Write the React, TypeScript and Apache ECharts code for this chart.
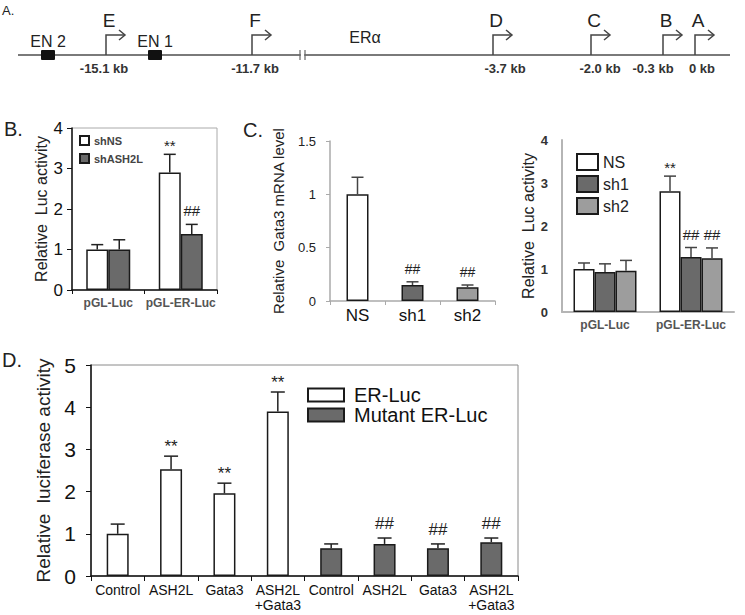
import React, { useEffect, useRef } from "react";
import * as echarts from "echarts";

const FONT = "'Liberation Sans', Arial, Helvetica, sans-serif";

// ---------- Panel A (schematic) ----------
const promoterNames = ["E", "F", "D", "C", "B", "A"];
const promoterDistances = ["-15.1 kb", "-11.7 kb", "-3.7 kb", "-2.0 kb", "-0.3 kb", "0 kb"];
const enhancerNames = ["EN 2", "EN 1"];
const geneName = "ERα";

// ---------- Panel B ----------
const bCategories = ["pGL-Luc", "pGL-ER-Luc"];
const bShNS = [1.0, 2.9];
const bShNSErr = [1.12, 3.35];
const bShNSMarks = ["", "**"];
const bShASH2L = [1.0, 1.38];
const bShASH2LErr = [1.24, 1.62];
const bShASH2LMarks = ["", "##"];

// ---------- Panel C (mRNA) ----------
const cCategories = ["NS", "sh1", "sh2"];
const cValues = [1.0, 0.15, 0.13];
const cErr = [1.16, 0.18, 0.15];
const cMarks = ["", "##", "##"];

// ---------- Panel C (luciferase) ----------
const rCategories = ["pGL-Luc", "pGL-ER-Luc"];
const rNS = [1.0, 2.81];
const rNSErr = [1.14, 3.16];
const rNSMarks = ["", "**"];
const rSh1 = [0.93, 1.28];
const rSh1Err = [1.12, 1.5];
const rSh1Marks = ["", "##"];
const rSh2 = [0.96, 1.25];
const rSh2Err = [1.2, 1.49];
const rSh2Marks = ["", "##"];

// ---------- Panel D ----------
const dCategories = ["Control", "ASH2L", "Gata3", "ASH2L\n+Gata3", "Control", "ASH2L", "Gata3", "ASH2L\n+Gata3"];
const dER = [1.0, 2.53, 1.96, 3.9, null, null, null, null];
const dERErr = [1.23, 2.84, 2.2, 4.36, null, null, null, null];
const dERMarks = ["", "**", "**", "**", "", "", "", ""];
const dMut = [null, null, null, null, 0.66, 0.76, 0.66, 0.8];
const dMutErr = [null, null, null, null, 0.76, 0.9, 0.76, 0.9];
const dMutMarks = ["", "", "", "", "", "##", "##", "##"];

// ---------- layout (pixels) ----------
const diagramY = 55;
const diagramLineX = [18, 730];
const promoterX = [106, 252, 493, 591, 663, 695];
const distanceLabelX = [104, 255, 505, 600, 653, 702];
const enhancerX = [48, 155];
const breakX = 300;
const geneLabelX = 365;

const WHITE = "#ffffff";
const DARK = "#6a6a6a";
const LIGHT = "#9d9d9d";
const EDGE = "#1a1a1a";

function errSeries(
  xi: number,
  values: (number | null)[],
  errs: (number | null)[],
  marks: string[],
  offset: number,
  cap: number,
  color: string,
  markSize: number,
  markGap: (m: string) => number
) {
  const data: number[][] = [];
  values.forEach((v, i) => {
    if (v != null && errs[i] != null) data.push([i, v as number, errs[i] as number]);
  });
  return {
    type: "custom",
    xAxisIndex: xi,
    yAxisIndex: xi,
    z: 5,
    silent: true,
    data,
    renderItem: (params: any, api: any) => {
      const cat = api.value(0);
      const b = api.coord([cat, api.value(1)]);
      const t = api.coord([cat, api.value(2)]);
      const x = b[0] + offset;
      const children: any[] = [
        { type: "line", shape: { x1: x, y1: b[1], x2: x, y2: t[1] }, style: { stroke: color, lineWidth: 1.5 } },
        { type: "line", shape: { x1: x - cap, y1: t[1], x2: x + cap, y2: t[1] }, style: { stroke: color, lineWidth: 1.5 } },
      ];
      const m = marks[cat];
      if (m) {
        children.push({
          type: "text",
          x,
          y: t[1] - markGap(m),
          style: {
            text: m,
            fontSize: markSize,
            fontFamily: FONT,
            fill: "#222",
            align: "center",
            verticalAlign: "bottom",
          },
        });
      }
      return { type: "group", children };
    },
  };
}

function buildDiagram() {
  const els: any[] = [];
  const lineStyle = { stroke: "#7a7a7a", lineWidth: 2 };
  els.push({ type: "line", shape: { x1: diagramLineX[0], y1: diagramY, x2: diagramLineX[1], y2: diagramY }, style: lineStyle });
  els.push({ type: "rect", shape: { x: breakX + 0.8, y: diagramY - 4, width: 3.4, height: 8 }, style: { fill: "#fff" } });
  els.push({ type: "line", shape: { x1: breakX, y1: diagramY - 5, x2: breakX, y2: diagramY + 5 }, style: { stroke: "#666", lineWidth: 1.2 } });
  els.push({ type: "line", shape: { x1: breakX + 5, y1: diagramY - 5, x2: breakX + 5, y2: diagramY + 5 }, style: { stroke: "#666", lineWidth: 1.2 } });
  enhancerNames.forEach((n, i) => {
    const x = enhancerX[i];
    els.push({ type: "rect", shape: { x: x - 7, y: diagramY - 5, width: 14, height: 10, r: 1 }, style: { fill: "#111" } });
    els.push({ type: "text", x, y: diagramY - 14, style: { text: n, fontSize: 16, fontFamily: FONT, fill: "#222", align: "center", verticalAlign: "middle" } });
  });
  promoterNames.forEach((n, i) => {
    const x = promoterX[i];
    const top = diagramY - 20;
    els.push({ type: "polyline", shape: { points: [[x, diagramY], [x, top], [x + 19, top]] }, style: { stroke: "#444", lineWidth: 1.5, fill: null } });
    els.push({ type: "polyline", shape: { points: [[x + 13, top - 5], [x + 19, top], [x + 13, top + 5]] }, style: { stroke: "#444", lineWidth: 1.5, fill: null } });
    els.push({ type: "text", x: x + 3, y: 20, style: { text: n, fontSize: 19, fontFamily: FONT, fill: "#222", align: "center", verticalAlign: "middle" } });
    els.push({ type: "text", x: distanceLabelX[i], y: diagramY + 13, style: { text: promoterDistances[i], fontSize: 13, fontWeight: "bold", fontFamily: FONT, fill: "#333", align: "center", verticalAlign: "middle" } });
  });
  els.push({ type: "text", x: geneLabelX, y: 37, style: { text: geneName, fontSize: 16, fontFamily: FONT, fill: "#222", align: "center", verticalAlign: "middle" } });
  els.push({ type: "text", x: 2, y: 10, style: { text: "A.", fontSize: 13, fontFamily: FONT, fill: "#222", verticalAlign: "middle" } });
  els.push({ type: "text", x: 4, y: 129, style: { text: "B.", fontSize: 20, fontFamily: FONT, fill: "#222", verticalAlign: "middle" } });
  els.push({ type: "text", x: 243, y: 130, style: { text: "C.", fontSize: 20, fontFamily: FONT, fill: "#222", verticalAlign: "middle" } });
  els.push({ type: "text", x: 2, y: 360, style: { text: "D.", fontSize: 20, fontFamily: FONT, fill: "#222", verticalAlign: "middle" } });
  return els;
}

function barItem(color: string) {
  return { color, borderColor: EDGE, borderWidth: 1.5 };
}

function buildOption() {
  const gapFor = (m: string) => (m.startsWith("*") ? 1 : 6);
  return {
    animation: false,
    backgroundColor: "#fff",
    textStyle: { fontFamily: FONT },
    graphic: { elements: buildDiagram() },
    legend: [
      {
        data: ["shNS", "shASH2L"],
        left: 74,
        top: 130,
        orient: "vertical",
        icon: "rect",
        itemWidth: 9,
        itemHeight: 9,
        itemGap: 7,
        selectedMode: false,
        textStyle: { fontSize: 11, fontWeight: "bold", color: "#444", fontFamily: FONT },
      },
      {
        data: ["NS", "sh1", "sh2"],
        left: 571,
        top: 148,
        orient: "vertical",
        icon: "rect",
        itemWidth: 21,
        itemHeight: 16,
        itemGap: 4,
        selectedMode: false,
        textStyle: { fontSize: 16, color: "#222", fontFamily: FONT },
      },
      {
        data: ["ER-Luc", "Mutant ER-Luc"],
        left: 302,
        top: 380,
        orient: "vertical",
        icon: "rect",
        itemWidth: 36,
        itemHeight: 13,
        itemGap: 0,
        selectedMode: false,
        textStyle: { fontSize: 20, color: "#111", fontFamily: FONT, padding: [0, 0, 0, 5] },
      },
    ],
    grid: [
      { left: 72, top: 128, width: 145, height: 162, show: true, borderColor: "#aaa", borderWidth: 1, outerBoundsMode: "none" },
      { left: 330, top: 141, width: 165, height: 160, outerBoundsMode: "none" },
      { left: 562, top: 140, width: 172, height: 172, outerBoundsMode: "none" },
      { left: 91, top: 365, width: 427, height: 211, show: true, borderColor: "#8a8a8a", borderWidth: 1, outerBoundsMode: "none" },
    ],
    xAxis: [
      {
        type: "category",
        gridIndex: 0,
        data: bCategories,
        axisLine: { lineStyle: { color: "#111", width: 1.5 } },
        axisTick: { show: true, length: 4, lineStyle: { color: "#111" } },
        axisLabel: { fontSize: 12, fontWeight: "bold", color: "#555", margin: 7, interval: 0, hideOverlap: false, fontFamily: FONT },
      },
      {
        type: "category",
        gridIndex: 1,
        data: cCategories,
        axisLine: { lineStyle: { color: "#aaa", width: 1.5 } },
        axisTick: { show: true, length: 4, lineStyle: { color: "#aaa" } },
        axisLabel: { fontSize: 17, color: "#111", margin: 6, interval: 0, fontFamily: FONT },
      },
      {
        type: "category",
        gridIndex: 2,
        data: rCategories,
        axisLine: { lineStyle: { color: "#b5b5b5", width: 2 } },
        axisTick: { show: false },
        axisLabel: { fontSize: 12, fontWeight: "bold", color: "#555", margin: 7, interval: 0, hideOverlap: false, fontFamily: FONT },
      },
      {
        type: "category",
        gridIndex: 3,
        data: dCategories,
        axisLine: { lineStyle: { color: "#111", width: 1.5 } },
        axisTick: { show: true, length: 5, lineStyle: { color: "#111" } },
        axisLabel: { fontSize: 14, color: "#111", margin: 6, lineHeight: 15, interval: 0, hideOverlap: false, fontFamily: FONT },
      },
    ],
    yAxis: [
      {
        type: "value",
        gridIndex: 0,
        min: 0,
        max: 4,
        interval: 1,
        splitLine: { show: false },
        axisLine: { show: true, lineStyle: { color: "#111", width: 1.5 } },
        axisTick: { show: true, length: 5, lineStyle: { color: "#111" } },
        axisLabel: { fontSize: 17, color: "#111", margin: 9, fontFamily: FONT },
        name: "Relative  Luc activity",
        nameLocation: "middle",
        nameRotate: 90,
        nameGap: 21,
        nameTextStyle: { fontSize: 16, color: "#222", fontFamily: FONT },
      },
      {
        type: "value",
        gridIndex: 1,
        min: 0,
        max: 1.5,
        interval: 0.5,
        splitLine: { show: false },
        axisLine: { show: true, lineStyle: { color: "#aaa", width: 1.5 } },
        axisTick: { show: true, length: 4, lineStyle: { color: "#aaa" } },
        axisLabel: { fontSize: 13, color: "#222", margin: 14, fontFamily: FONT },
        name: "Relative  Gata3 mRNA level",
        nameLocation: "middle",
        nameRotate: 90,
        nameGap: 44,
        nameTextStyle: { fontSize: 15, color: "#222", fontFamily: FONT },
      },
      {
        type: "value",
        gridIndex: 2,
        min: 0,
        max: 4,
        interval: 1,
        splitLine: { show: false },
        axisLine: { show: true, lineStyle: { color: "#b5b5b5", width: 2 } },
        axisTick: { show: false },
        axisLabel: { fontSize: 13, fontWeight: "bold", color: "#333", margin: 14, fontFamily: FONT },
        name: "Relative  Luc activity",
        nameLocation: "middle",
        nameRotate: 90,
        nameGap: 26,
        nameTextStyle: { fontSize: 16, color: "#222", fontFamily: FONT },
      },
      {
        type: "value",
        gridIndex: 3,
        min: 0,
        max: 5,
        interval: 1,
        splitLine: { show: false },
        axisLine: { show: true, lineStyle: { color: "#111", width: 1.5 } },
        axisTick: { show: true, length: 5, lineStyle: { color: "#111" } },
        axisLabel: { fontSize: 21, color: "#111", margin: 15, fontFamily: FONT },
        name: "Relative  luciferase activity",
        nameLocation: "middle",
        nameRotate: 90,
        nameGap: 36,
        nameTextStyle: { fontSize: 19, color: "#222", fontFamily: FONT },
      },
    ],
    series: [
      // Panel B
      { type: "bar", name: "shNS", xAxisIndex: 0, yAxisIndex: 0, data: bShNS, barWidth: 22, barGap: "0%", itemStyle: barItem(WHITE), emphasis: { disabled: true } },
      { type: "bar", name: "shASH2L", xAxisIndex: 0, yAxisIndex: 0, data: bShASH2L, barWidth: 22, barGap: "0%", itemStyle: barItem(DARK), emphasis: { disabled: true } },
      errSeries(0, bShNS, bShNSErr, bShNSMarks, -11, 6, "#222", 15, gapFor),
      errSeries(0, bShASH2L, bShASH2LErr, bShASH2LMarks, 11, 6, "#222", 15, gapFor),
      // Panel C mRNA
      {
        type: "bar",
        name: "Gata3 mRNA",
        xAxisIndex: 1,
        yAxisIndex: 1,
        barWidth: 22,
        data: cValues.map((v, i) => ({ value: v, itemStyle: barItem([WHITE, DARK, LIGHT][i]) })),
        itemStyle: barItem(WHITE),
        emphasis: { disabled: true },
      },
      errSeries(1, cValues, cErr, cMarks, 0, 6, "#444", 14, gapFor),
      // Panel C luciferase
      { type: "bar", name: "NS", xAxisIndex: 2, yAxisIndex: 2, data: rNS, barWidth: 21, barGap: "0%", itemStyle: barItem(WHITE), emphasis: { disabled: true } },
      { type: "bar", name: "sh1", xAxisIndex: 2, yAxisIndex: 2, data: rSh1, barWidth: 21, barGap: "0%", itemStyle: barItem(DARK), emphasis: { disabled: true } },
      { type: "bar", name: "sh2", xAxisIndex: 2, yAxisIndex: 2, data: rSh2, barWidth: 21, barGap: "0%", itemStyle: barItem(LIGHT), emphasis: { disabled: true } },
      errSeries(2, rNS, rNSErr, rNSMarks, -21, 6, "#444", 15, gapFor),
      errSeries(2, rSh1, rSh1Err, rSh1Marks, 0, 6, "#444", 15, gapFor),
      errSeries(2, rSh2, rSh2Err, rSh2Marks, 21, 6, "#444", 15, gapFor),
      // Panel D
      { type: "bar", name: "ER-Luc", xAxisIndex: 3, yAxisIndex: 3, data: dER.map((v) => (v == null ? "-" : v)), barWidth: 22, barGap: "-100%", itemStyle: barItem(WHITE), emphasis: { disabled: true } },
      { type: "bar", name: "Mutant ER-Luc", xAxisIndex: 3, yAxisIndex: 3, data: dMut.map((v) => (v == null ? "-" : v)), barWidth: 22, barGap: "-100%", itemStyle: barItem(DARK), emphasis: { disabled: true } },
      errSeries(3, dER, dERErr, dERMarks, 0, 7, "#222", 17, gapFor),
      errSeries(3, dMut, dMutErr, dMutMarks, 0, 7, "#222", 17, gapFor),
    ],
  };
}

export default function App() {
  const ref = useRef<HTMLDivElement>(null);
  useEffect(() => {
    if (!ref.current) return;
    const chart = echarts.init(ref.current, null, { renderer: "svg" });
    chart.setOption(buildOption() as any);
    return () => chart.dispose();
  }, []);
  return (
    <div
      ref={ref}
      style={{ position: "absolute", left: 0, top: 0, width: 745, height: 615, background: "#fff" }}
    />
  );
}
